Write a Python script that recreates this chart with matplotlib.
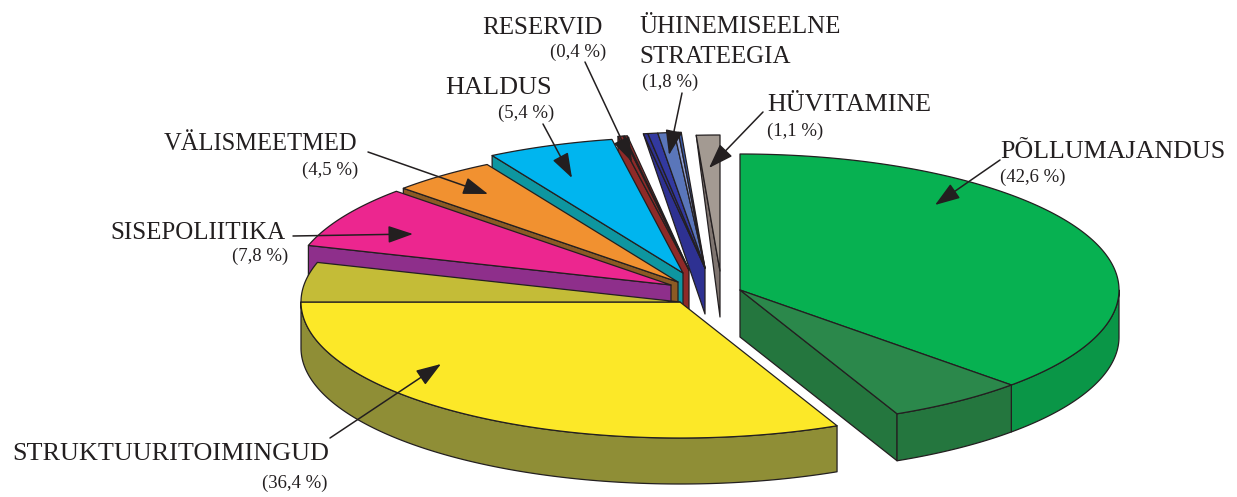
import numpy as np
import matplotlib
matplotlib.use('Agg')
import matplotlib.pyplot as plt

plt.rcParams['font.family'] = ['Liberation Serif', 'DejaVu Serif']

# stated shares, as printed on the chart
names = ["PÕLLUMAJANDUS", "STRUKTUURITOIMINGUD", "SISEPOLIITIKA", "VÄLISMEETMED",
         "HALDUS", "RESERVID", "ÜHINEMISEELNE\nSTRATEEGIA", "HÜVITAMINE"]
shares = [42.6, 36.4, 7.8, 4.5, 5.4, 0.4, 1.8, 1.1]

# drawn sweep of every part of a slice, percent of the circle
sweeps = [[37.3, 5.9], [31.8, 4.7], [7.4], [4.5], [5.4], [0.22, 0.06, 0.12],
          [0.19, 0.42, 0.7, 0.17, 0.12], [1.0]]
top_colors = [["#07B151", "#2B884B"], ["#FCE828", "#C4BC37"], ["#EC268F"], ["#F19130"],
              ["#00B5EF"], ["#8E2A28", "#E7262B", "#8E2A28"],
              ["#2E3192", "#3239A0", "#5A76BA", "#8C9CD0", "#3A5AA8"], ["#A39A92"]]
rim_colors = [["#0A9647", "#24763E"], ["#8F8E36", "#8F8E36"], None, None, None, None, None, None]
wall_colors = ["#24763E", None, "#8E2F8B", "#8B5A24", "#0E96A0", "#8E2A28", "#2E3192", "#7F7570"]

# where each exploded slice has its tip, and how it is extruded
tips = [(740, 290), (680, 302), (671, 285), (678, 282), (683, 273), (689, 270), (705, 268), (720, 271)]
depths = [47, 46, 46, 46, 46, 46, 46, 46]
outer_drops = [47, 46, 46, 46, 46, 46, 0, 0]
rx, ry = 379, 136

label_pos = [(1000, 158, 'left'), (12, 460, 'left'), (286, 239, 'right'), (357, 150, 'right'),
             (552, 94, 'right'), (603, 34, 'right'), (639, 33, 'left'), (767, 111, 'left')]
label_sizes = [18.7, 18.8, 18, 17.7, 18.9, 18, 18, 18.7]
pct_pos = [(1000, 182, 'left'), (328, 488, 'right'), (288, 261, 'right'), (358, 175, 'right'),
           (554, 118, 'right'), (606, 57, 'right'), (642, 87, 'left'), (767, 136, 'left')]
arrows = [((1000, 160), (935, 205)), ((330, 438), (441, 364)), ((293, 236), (413, 234)),
          ((368, 152), (488, 194)), ((543, 124), (572, 178)), ((585, 62), (632, 162)),
          ((682, 93), (669, 155)), ((763, 112), (709, 168))]

EDGE = "#231F20"
LW = 0.9


def point(tip, t):
    a = np.radians(t)
    return tip[0] + rx * np.sin(a), tip[1] - ry * np.cos(a)


def arc(tip, t0, t1, drop=0):
    t = np.linspace(t0, t1, max(int(abs(t1 - t0) * 2), 2))
    a = np.radians(t)
    return tip[0] + rx * np.sin(a), tip[1] - ry * np.cos(a) + drop


def polygon(ax, xs, ys, color):
    ax.fill(xs, ys, facecolor=color, edgecolor=EDGE, linewidth=LW, joinstyle='round')


fig = plt.figure(figsize=(12.37, 4.97), dpi=100)
ax = fig.add_axes([0, 0, 1, 1])
ax.set_xlim(0, 1237)
ax.set_ylim(497, 0)
ax.axis('off')

# start angle of each slice
starts = []
total = 0
for parts in sweeps:
    starts.append(total * 3.6)
    total += sum(parts)

# paint from the back of the pie to the front
for i in [7, 6, 5, 4, 3, 2, 1, 0]:
    tip = tips[i]
    d = depths[i]
    t0 = starts[i]
    t1 = t0 + sum(sweeps[i]) * 3.6

    if i == 0:
        # cut face on the open side
        ox, oy = point(tip, t1)
        polygon(ax, [tip[0], ox, ox, tip[0]], [tip[1], oy, oy + d, tip[1] + d], wall_colors[i])
    elif wall_colors[i] is not None:
        ox, oy = point(tip, t0)
        polygon(ax, [ox, tip[0], tip[0], ox], [oy, tip[1], tip[1] + d, oy + outer_drops[i]], wall_colors[i])

    t = t0
    for k, (part, top) in enumerate(zip(sweeps[i], top_colors[i])):
        end = t + part * 3.6
        # rim where the arc faces the viewer
        if rim_colors[i] is not None:
            lo, hi = max(t, 90), min(end, 270)
            if hi > lo:
                x1, y1 = arc(tip, lo, hi)
                x2, y2 = arc(tip, hi, lo, d)
                polygon(ax, np.r_[x1, x2], np.r_[y1, y2], rim_colors[i][k])
        xs, ys = arc(tip, t, end)
        polygon(ax, np.r_[tip[0], xs], np.r_[tip[1], ys], top)
        t = end

for i, name in enumerate(names):
    x, y, ha = label_pos[i]
    for k, line in enumerate(name.split('\n')):
        ax.text(x, y + 30 * k, line, fontsize=label_sizes[i], ha=ha, va='baseline', color=EDGE)
    x, y, ha = pct_pos[i]
    pct = "(" + str(shares[i]).replace('.', ',') + " %)"
    ax.text(x, y, pct, fontsize=13.5, ha=ha, va='baseline', color=EDGE)
    start, end = arrows[i]
    ax.annotate('', xy=end, xytext=start,
                arrowprops=dict(arrowstyle='-|>,head_length=1.1,head_width=0.38', color=EDGE,
                                lw=1.1, mutation_scale=14, shrinkA=0, shrinkB=0))

fig.savefig('out.png', dpi=100, facecolor='white')
